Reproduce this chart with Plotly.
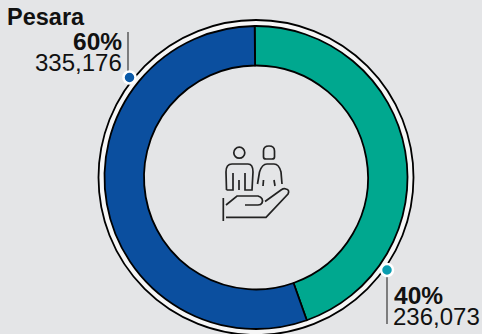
import plotly.graph_objects as go

categories = ["Teal group", "Pesara"]
arc_shares = [44.7, 55.3]
pct_labels = ["40%", "60%"]
count_labels = ["236,073", "335,176"]
slice_colors = ["#00A88F", "#0B4F9F"]
BG = "#E4E5E7"
INK = "#111111"
W, H = 482, 334
CX, CY, R, R_HOLE, R_RING = 256, 177.5, 151.5, 112, 157.5

fig = go.Figure()
fig.add_trace(go.Pie(
    labels=categories, values=arc_shares, sort=False, direction="clockwise", rotation=-0.5,
    hole=R_HOLE / R, textinfo="none", hoverinfo="skip", showlegend=False,
    marker=dict(colors=slice_colors, line=dict(color="#000000", width=1.8)),
    domain=dict(x=[(CX - R) / W, (CX + R) / W], y=[1 - (CY + R) / H, 1 - (CY - R) / H]),
))
# leader lines
fig.add_trace(go.Scatter(x=[128, 128], y=[32, 72], mode="lines", line=dict(color="#444444", width=1.3),
                         hoverinfo="skip", showlegend=False))
fig.add_trace(go.Scatter(x=[387, 387], y=[274, 324], mode="lines", line=dict(color="#444444", width=1.3),
                         hoverinfo="skip", showlegend=False))
# leader dots
fig.add_trace(go.Scatter(x=[129.5], y=[77.5], mode="markers", hoverinfo="skip", showlegend=False,
                         marker=dict(size=12, color="#0B5AA8", line=dict(color="white", width=2.5))))
fig.add_trace(go.Scatter(x=[387], y=[270], mode="markers", hoverinfo="skip", showlegend=False,
                         marker=dict(size=12, color="#0A9DB0", line=dict(color="white", width=2.5))))

def circle(r, fill, line, cx=CX, cy=CY, layer="below"):
    return dict(type="circle", xref="x", yref="y", x0=cx - r, x1=cx + r, y0=cy - r, y1=cy + r,
                fillcolor=fill, line=line, layer=layer)

ICON = dict(color="#222222", width=1.7)
icon_paths = [
    # left figure
    "M226.5,190 L226,172 Q226,164 232,164 L248,164 Q253,164 253,172 L252,190 L245,190 L245,173",
    "M233,173 L233,190 L226.5,190",
    "M239,180 L239,190",
    # right head
    "M263.5,157 L263.5,151 Q263.5,146 269,146 Q274.5,146 274.5,151 L274.5,157 Q274.5,159 272,159 L266,159 Q263.5,159 263.5,157 Z",
    # right figure
    "M257.5,184 L259.5,172 Q262,164 267,164 L274,164 Q279,164 281,172 L282,184",
    "M263.5,180 L263,186", "M274,180 L275,186",
    # hand
    "M223.3,198 L223.3,221",
    "M226,217.3 L266,217.3 L288,194 Q290,190 286,189 Q284,188 281,190 L265,201.5",
    "M226,205 L237,196 L258,196 Q264,198 262,203 Q261,205 258,205 L245,205",
]
shapes = [
    circle(R_RING, "#F6F6F6", dict(color="#000000", width=1.8)),
    circle(R_HOLE, BG, dict(width=0)),
    circle(5.5, "rgba(0,0,0,0)", ICON, cx=239.3, cy=152.7, layer="above"),
]
for p in icon_paths:
    shapes.append(dict(type="path", xref="x", yref="y", path=p, line=ICON, layer="above"))

FONT = "Liberation Sans"
def note(x, y, text, anchor, bold=False, size=24):
    return dict(x=x, y=y, xref="x", yref="y", text=f"<b>{text}</b>" if bold else text, showarrow=False,
                xanchor=anchor, yanchor="middle", font=dict(family=FONT, size=size, color=INK),
                borderpad=0, borderwidth=0)

annotations = [
    note(7, 17, categories[1], "left", True, 23.5),
    note(121.5, 41, pct_labels[1], "right", True, 24.5),
    note(122, 62, count_labels[1], "right", False, 24),
    note(393.5, 295, pct_labels[0], "left", True, 24.5),
    note(393, 316, count_labels[0], "left", False, 24),
]

fig.update_layout(
    width=W, height=H, margin=dict(l=0, r=0, t=0, b=0), paper_bgcolor=BG, plot_bgcolor="rgba(0,0,0,0)",
    xaxis=dict(range=[0, W], visible=False, fixedrange=True),
    yaxis=dict(range=[H, 0], visible=False, fixedrange=True),
    shapes=shapes, annotations=annotations, showlegend=False,
)
fig.write_html("out.html", config=dict(displayModeBar=False),
               post_script="document.body.style.margin='0';document.body.style.overflow='hidden';")
